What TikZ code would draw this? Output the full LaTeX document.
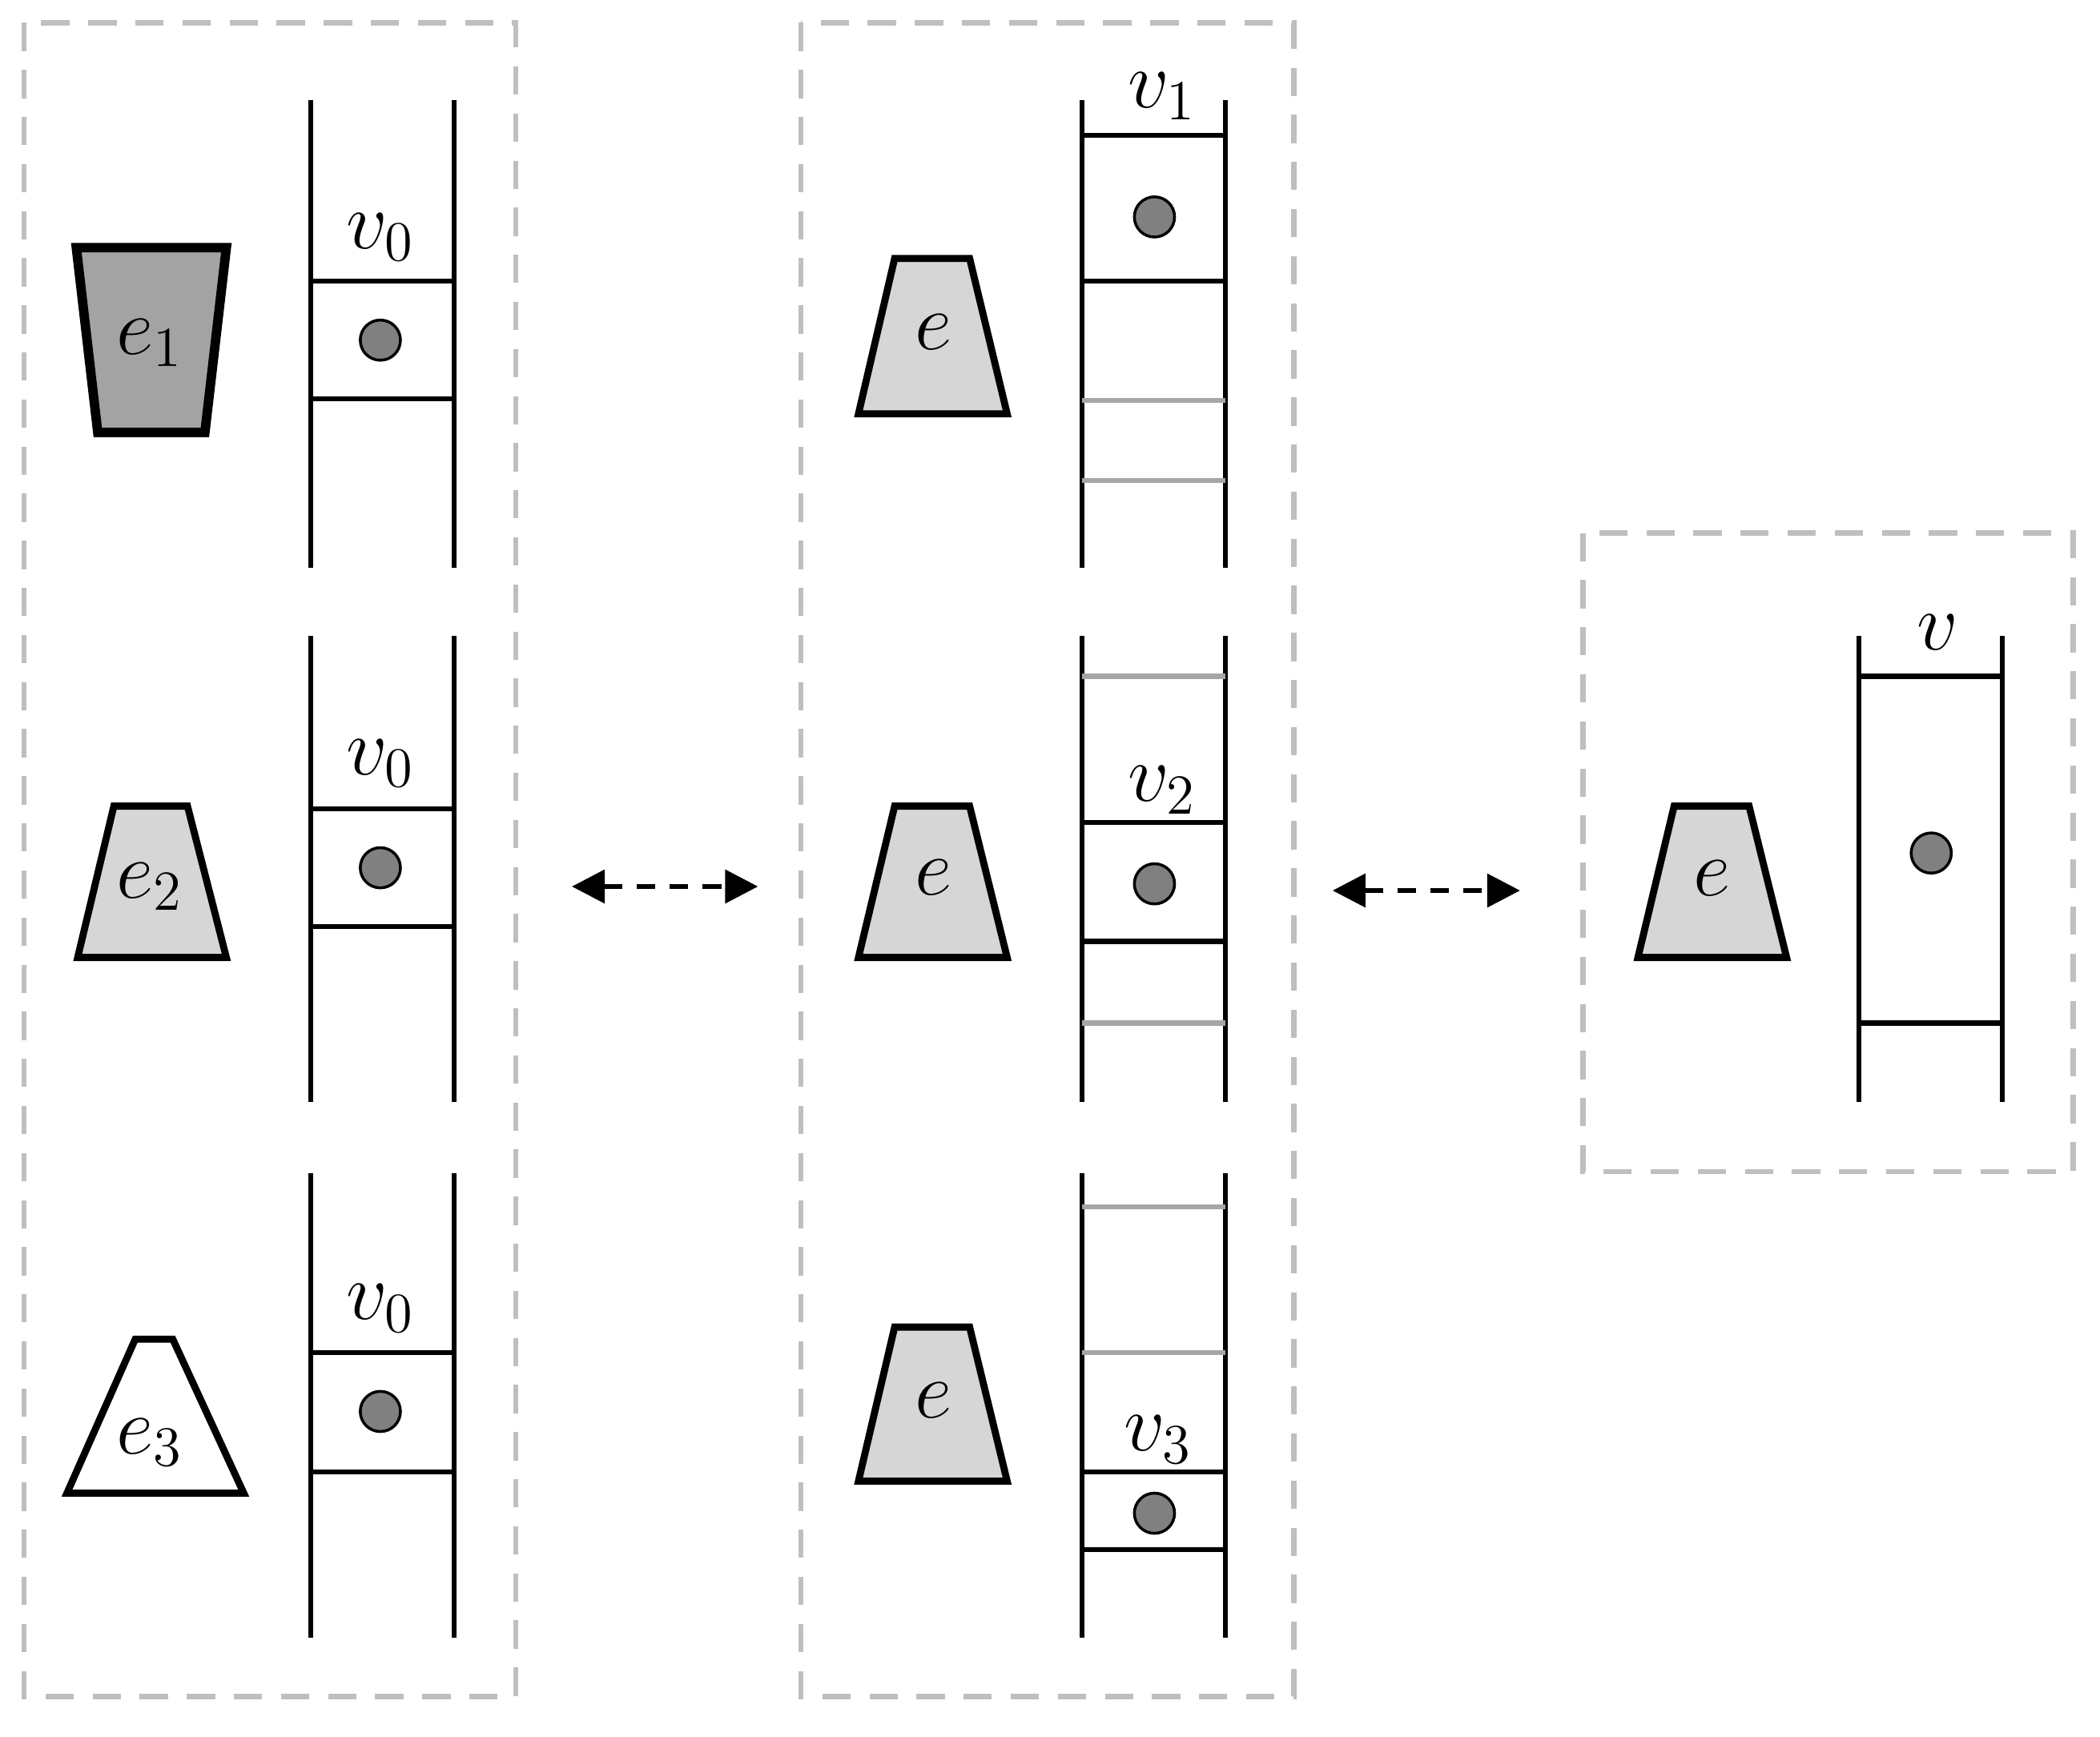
\documentclass[tikz,border=0pt]{standalone}
\usetikzlibrary{arrows.meta}
\begin{document}
\begin{tikzpicture}[x=0.01cm,y=-0.01cm,
  rail/.style={line width=1.05pt,black},
  rung/.style={line width=1.05pt,black},
  grung/.style={line width=1.05pt,black!35},
  dot/.style={circle,draw,line width=0.6pt,fill=black!50,minimum size=0.3cm,inner sep=0pt},
  lab/.style={font=\fontsize{18}{20}\selectfont,inner sep=0pt},
  trap/.style={line width=1.5pt,line join=miter},
  frame/.style={draw=black!25,line width=1.1pt,dash pattern=on 6pt off 4pt},
  dbl/.style={line width=1.05pt,dash pattern=on 4pt off 3pt,{Triangle[length=7pt,width=7pt]}-{Triangle[length=7pt,width=7pt]}}]
\useasboundingbox (0,0) rectangle (1568,1297);
% frames
\draw[frame] (18,17) rectangle (385,1267);
\draw[frame] (598,17) rectangle (966,1267);
\draw[frame] (1182,398) rectangle (1548,875);
% ladder macro
\newcommand{\ladder}[3]{% x-left, top, bottom
  \draw[rail] (#1,#2) -- (#1,#3);
  \draw[rail] (#1+107,#2) -- (#1+107,#3);}
% left column
\ladder{232}{75}{424}\ladder{232}{475}{823}\ladder{232}{876}{1223}
\foreach \a/\b/\c/\l in {210/298/254/177, 604/692/648/570, 1010/1099/1054/977}{
  \draw[rung] (232,\a) -- (339,\a);
  \draw[rung] (232,\b) -- (339,\b);
  \node[dot] at (284,\c) {};
  \node[lab] at (284,\l) {$v_0$};
}
\draw[trap,fill=black!36,line width=2pt] (57,185) -- (169,185) -- (153,323) -- (73,323) -- cycle;
\node[lab] at (112,256) {$e_1$};
\draw[trap,fill=black!16] (85,602) -- (140,602) -- (169,715) -- (58,715) -- cycle;
\node[lab] at (112,662) {$e_2$};
\draw[trap,fill=white] (101,1000) -- (129,1000) -- (182,1115) -- (50,1115) -- cycle;
\node[lab] at (112,1077) {$e_3$};
% middle column
\ladder{808}{75}{424}\ladder{808}{475}{823}\ladder{808}{876}{1223}
\foreach \y in {101,210,614,703,1099,1157} \draw[rung] (808,\y) -- (915,\y);
\foreach \y in {299,359,505,764,901,1010} \draw[grung] (808,\y) -- (915,\y);
\node[dot] at (862,162) {};
\node[dot] at (862,660) {};
\node[dot] at (862,1130) {};
\node[lab] at (868,72) {$v_1$};
\node[lab] at (868,590) {$v_2$};
\node[lab] at (865,1075) {$v_3$};
\foreach \t/\b in {193/309, 602/715, 991/1106}{
  \draw[trap,fill=black!16] (668,\t) -- (724,\t) -- (752,\b) -- (641,\b) -- cycle;
  \node[lab] at (697,\t/2+\b/2-3) {$e$};
}
% right
\ladder{1388}{475}{823}
\draw[rung] (1388,505) -- (1494,505);
\draw[rung] (1388,764) -- (1494,764);
\node[dot] at (1442,637) {};
\node[lab] at (1447,472) {$v$};
\draw[trap,fill=black!16] (1250,602) -- (1306,602) -- (1334,715) -- (1223,715) -- cycle;
\node[lab] at (1278,656) {$e$};
% arrows
\coordinate (a1) at (427,662); \coordinate (b1) at (566,662);
\coordinate (a2) at (995,665); \coordinate (b2) at (1135,665);
\draw[dbl] (a1) -- (b1);
\draw[dbl] (a2) -- (b2);
\end{tikzpicture}
\end{document}
